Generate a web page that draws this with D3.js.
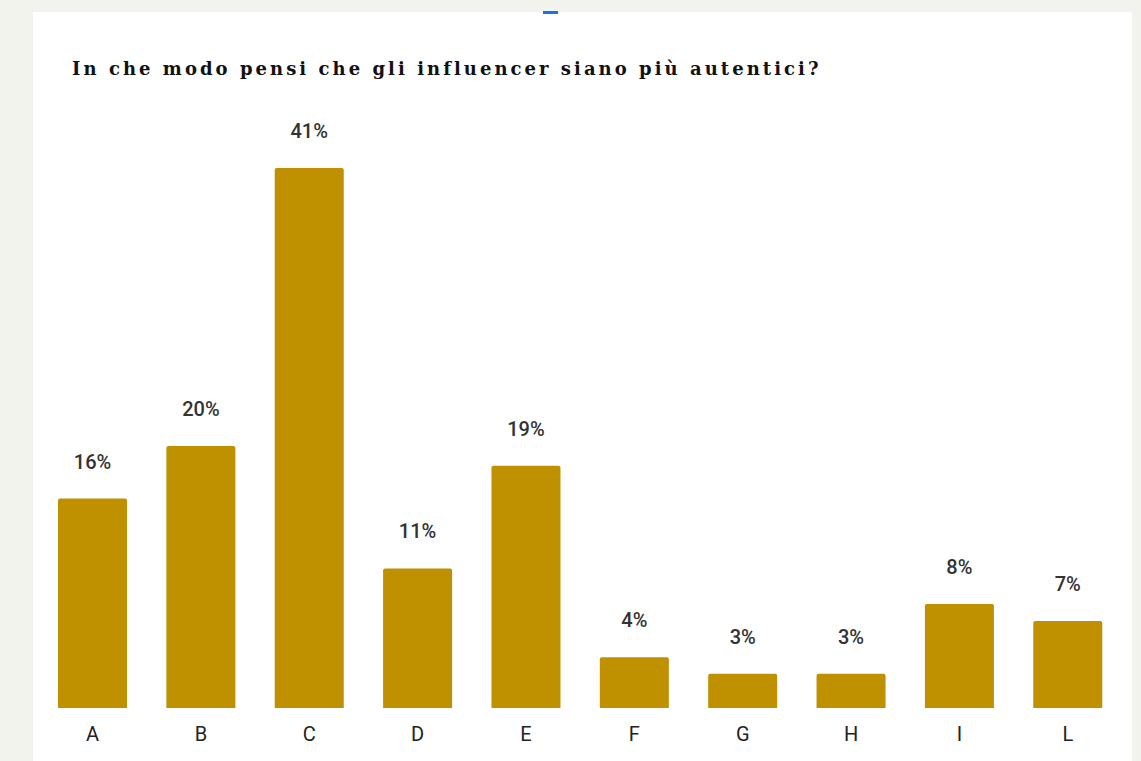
<!DOCTYPE html>
<html>
<head>
<meta charset="utf-8">
<script src="https://cdn.jsdelivr.net/npm/d3@7"></script>
<style>
  body { margin: 0; background: #f3f3ee; }
  svg { display: block; }
</style>
</head>
<body>
<div id="chart"></div>
<script>
// Dati (valori stimati dalle altezze delle barre, etichette arrotondate)
const categories = ['A', 'B', 'C', 'D', 'E', 'F', 'G', 'H', 'I', 'L'];
const values = [15.9, 19.9, 41, 10.6, 18.4, 3.85, 2.6, 2.6, 7.9, 6.6];
const labels = ['16%', '20%', '41%', '11%', '19%', '4%', '3%', '3%', '8%', '7%'];
const title = 'In che modo pensi che gli influencer siano più autentici?';

const W = 1141, H = 761;
const baseY = 708;

const svg = d3.select('#chart')
  .append('svg')
  .attr('width', W)
  .attr('height', H);

// Pannello bianco
svg.append('rect')
  .attr('x', 33).attr('y', 12)
  .attr('width', 1099).attr('height', H - 12)
  .attr('fill', '#ffffff');

// Segno blu in alto
svg.append('rect')
  .attr('x', 543).attr('y', 11)
  .attr('width', 15).attr('height', 3)
  .attr('fill', '#1a73e8');

// Scale
const x = d3.scaleBand()
  .domain(categories)
  .range([38.5, 1121.8])
  .paddingInner(0.363)
  .paddingOuter(0.18);

const y = d3.scaleLinear()
  .domain([0, 41])
  .range([baseY, 168]);

const data = categories.map((c, i) => ({ cat: c, val: values[i], lab: labels[i] }));

// Barre (angoli superiori arrotondati)
const r = 2;
svg.selectAll('.bar')
  .data(data)
  .enter()
  .append('path')
  .attr('class', 'bar')
  .attr('fill', '#bf9000')
  .attr('d', d => {
    const x0 = x(d.cat), w = x.bandwidth(), y0 = y(d.val);
    return `M${x0},${baseY}V${y0 + r}Q${x0},${y0} ${x0 + r},${y0}` +
      `H${x0 + w - r}Q${x0 + w},${y0} ${x0 + w},${y0 + r}V${baseY}Z`;
  });

// Etichette valori
svg.selectAll('.val')
  .data(data)
  .enter()
  .append('text')
  .attr('class', 'val')
  .attr('x', d => x(d.cat) + x.bandwidth() / 2)
  .attr('y', d => y(d.val) - 30)
  .attr('text-anchor', 'middle')
  .attr('font-family', 'Roboto, sans-serif')
  .attr('font-weight', 500)
  .attr('font-size', '20px')
  .attr('fill', '#333333')
  .text(d => d.lab);

// Asse x (solo etichette)
const xAxis = svg.append('g')
  .attr('transform', `translate(0, ${baseY})`)
  .call(d3.axisBottom(x).tickSize(0).tickPadding(19));
xAxis.select('.domain').remove();
xAxis.selectAll('text')
  .attr('font-family', 'Roboto, sans-serif')
  .attr('font-size', '20px')
  .attr('fill', '#222222');

// Titolo
const t = svg.append('text')
  .attr('x', 72)
  .attr('y', 75)
  .attr('font-family', '"DejaVu Serif", serif')
  .attr('font-weight', 'bold')
  .attr('font-size', '18px')
  .attr('fill', '#111111')
  .text(title);
const natural = t.node().getComputedTextLength();
t.style('letter-spacing', ((745 - natural) / (title.length - 1)) + 'px');
</script>
</body>
</html>
